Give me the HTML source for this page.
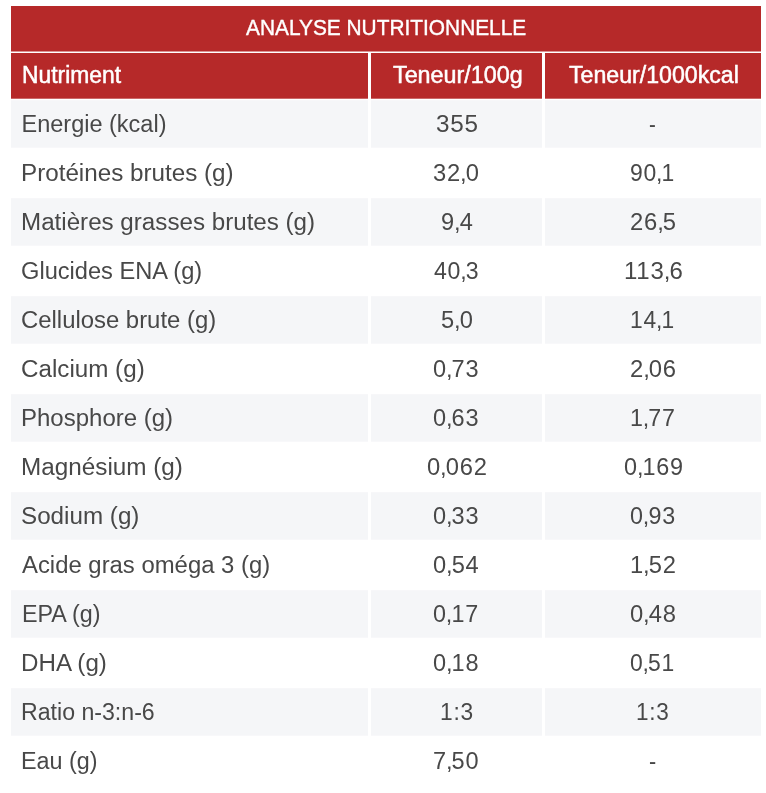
<!DOCTYPE html>
<html lang="fr"><head><meta charset="utf-8"><title>Analyse nutritionnelle</title>
<style>
html,body{margin:0;padding:0;background:#fff;}
body{width:766px;height:793px;position:relative;overflow:hidden;font-family:"Liberation Sans",Arial,sans-serif;}
svg.bg{position:absolute;left:0;top:0;}
.t{position:absolute;white-space:nowrap;font-size:23.5px;line-height:30px;height:30px;color:#484848;transform-origin:0 50%;}
.h{color:#fff;}
.hd{-webkit-text-stroke:0.5px #fff;font-size:23px;}
.ti{-webkit-text-stroke:0.4px #fff;font-size:22.5px;}
.n{letter-spacing:0.75px;}
.k{margin:0 -0.9px;letter-spacing:0;}
</style></head><body>

<svg class="bg" width="766" height="793" viewBox="0 0 766 793">
<rect x="11" y="6" width="750" height="45.5" fill="#b62929"/>
<rect x="11" y="53" width="357" height="45.7" fill="#b62929"/>
<rect x="371" y="53" width="171" height="45.7" fill="#b62929"/>
<rect x="545" y="53" width="216" height="45.7" fill="#b62929"/>
<rect x="11" y="100.2" width="357" height="47.5" fill="#f5f6f8"/>
<rect x="371" y="100.2" width="171" height="47.5" fill="#f5f6f8"/>
<rect x="545" y="100.2" width="216" height="47.5" fill="#f5f6f8"/>
<rect x="11" y="198.2" width="357" height="47.5" fill="#f5f6f8"/>
<rect x="371" y="198.2" width="171" height="47.5" fill="#f5f6f8"/>
<rect x="545" y="198.2" width="216" height="47.5" fill="#f5f6f8"/>
<rect x="11" y="296.2" width="357" height="47.5" fill="#f5f6f8"/>
<rect x="371" y="296.2" width="171" height="47.5" fill="#f5f6f8"/>
<rect x="545" y="296.2" width="216" height="47.5" fill="#f5f6f8"/>
<rect x="11" y="394.2" width="357" height="47.5" fill="#f5f6f8"/>
<rect x="371" y="394.2" width="171" height="47.5" fill="#f5f6f8"/>
<rect x="545" y="394.2" width="216" height="47.5" fill="#f5f6f8"/>
<rect x="11" y="492.2" width="357" height="47.5" fill="#f5f6f8"/>
<rect x="371" y="492.2" width="171" height="47.5" fill="#f5f6f8"/>
<rect x="545" y="492.2" width="216" height="47.5" fill="#f5f6f8"/>
<rect x="11" y="590.2" width="357" height="47.5" fill="#f5f6f8"/>
<rect x="371" y="590.2" width="171" height="47.5" fill="#f5f6f8"/>
<rect x="545" y="590.2" width="216" height="47.5" fill="#f5f6f8"/>
<rect x="11" y="688.2" width="357" height="47.5" fill="#f5f6f8"/>
<rect x="371" y="688.2" width="171" height="47.5" fill="#f5f6f8"/>
<rect x="545" y="688.2" width="216" height="47.5" fill="#f5f6f8"/>
</svg>
<div class="t h ti" style="left:246.26px;top:12.6px;transform:scaleX(0.9275)">ANALYSE NUTRITIONNELLE</div>
<div class="t h hd" style="left:21.56px;top:59.9px;transform:scaleX(0.9944)">Nutriment</div>
<div class="t h hd" style="left:392.51px;top:59.9px;transform:scaleX(1.0137)">Teneur/100g</div>
<div class="t h hd" style="left:568.91px;top:59.9px;transform:scaleX(1.0061)">Teneur/1000kcal</div>
<div class="t " style="left:21.50px;top:109.0px;transform:scaleX(1.0000)">Energie (kcal)</div>
<div class="t n" style="left:435.68px;top:109.0px;transform:scaleX(1.0330)">355</div>
<div class="t n" style="left:648.91px;top:109.0px;transform:scaleX(0.8678)">-</div>
<div class="t " style="left:20.84px;top:157.9px;transform:scaleX(1.0299)">Protéines brutes (g)</div>
<div class="t n" style="left:433.21px;top:157.9px;transform:scaleX(1.0105)">32<span class="k">,</span>0</div>
<div class="t n" style="left:629.96px;top:157.9px;transform:scaleX(0.9759)">90<span class="k">,</span>1</div>
<div class="t " style="left:20.84px;top:206.9px;transform:scaleX(1.0283)">Matières grasses brutes (g)</div>
<div class="t n" style="left:440.73px;top:206.9px;transform:scaleX(1.0042)">9<span class="k">,</span>4</div>
<div class="t n" style="left:629.90px;top:206.9px;transform:scaleX(1.0141)">26<span class="k">,</span>5</div>
<div class="t " style="left:21.49px;top:255.9px;transform:scaleX(1.0055)">Glucides ENA (g)</div>
<div class="t n" style="left:434.04px;top:255.9px;transform:scaleX(0.9828)">40<span class="k">,</span>3</div>
<div class="t n" style="left:623.56px;top:255.9px;transform:scaleX(1.0211)">113<span class="k">,</span>6</div>
<div class="t " style="left:21.48px;top:304.9px;transform:scaleX(1.0163)">Cellulose brute (g)</div>
<div class="t n" style="left:440.74px;top:304.9px;transform:scaleX(1.0079)">5<span class="k">,</span>0</div>
<div class="t n" style="left:630.26px;top:304.9px;transform:scaleX(0.9691)">14<span class="k">,</span>1</div>
<div class="t " style="left:21.46px;top:353.9px;transform:scaleX(1.0297)">Calcium (g)</div>
<div class="t n" style="left:433.30px;top:353.9px;transform:scaleX(1.0016)">0<span class="k">,</span>73</div>
<div class="t n" style="left:629.90px;top:353.9px;transform:scaleX(1.0147)">2<span class="k">,</span>06</div>
<div class="t " style="left:21.26px;top:402.9px;transform:scaleX(1.0214)">Phosphore (g)</div>
<div class="t n" style="left:433.30px;top:402.9px;transform:scaleX(1.0016)">0<span class="k">,</span>63</div>
<div class="t n" style="left:630.22px;top:402.9px;transform:scaleX(0.9882)">1<span class="k">,</span>77</div>
<div class="t " style="left:21.23px;top:451.9px;transform:scaleX(1.0333)">Magnésium (g)</div>
<div class="t n" style="left:426.99px;top:451.9px;transform:scaleX(1.0105)">0<span class="k">,</span>062</div>
<div class="t n" style="left:623.70px;top:451.9px;transform:scaleX(0.9965)">0<span class="k">,</span>169</div>
<div class="t " style="left:21.37px;top:501.0px;transform:scaleX(1.0303)">Sodium (g)</div>
<div class="t n" style="left:433.30px;top:501.0px;transform:scaleX(1.0016)">0<span class="k">,</span>33</div>
<div class="t n" style="left:630.01px;top:501.0px;transform:scaleX(0.9924)">0<span class="k">,</span>93</div>
<div class="t " style="left:21.98px;top:550.0px;transform:scaleX(1.0160)">Acide gras oméga 3 (g)</div>
<div class="t n" style="left:433.29px;top:550.0px;transform:scaleX(1.0059)">0<span class="k">,</span>54</div>
<div class="t n" style="left:630.18px;top:550.0px;transform:scaleX(1.0093)">1<span class="k">,</span>52</div>
<div class="t " style="left:21.52px;top:599.0px;transform:scaleX(0.9917)">EPA (g)</div>
<div class="t n" style="left:433.31px;top:599.0px;transform:scaleX(0.9931)">0<span class="k">,</span>17</div>
<div class="t n" style="left:629.99px;top:599.0px;transform:scaleX(1.0125)">0<span class="k">,</span>48</div>
<div class="t " style="left:21.25px;top:648.0px;transform:scaleX(1.0275)">DHA (g)</div>
<div class="t n" style="left:433.30px;top:648.0px;transform:scaleX(1.0012)">0<span class="k">,</span>18</div>
<div class="t n" style="left:630.03px;top:648.0px;transform:scaleX(0.9744)">0<span class="k">,</span>51</div>
<div class="t " style="left:21.33px;top:697.0px;transform:scaleX(0.9844)">Ratio n-3:n-6</div>
<div class="t n" style="left:439.86px;top:697.0px;transform:scaleX(0.9684)">1:3</div>
<div class="t n" style="left:636.18px;top:697.0px;transform:scaleX(0.9587)">1:3</div>
<div class="t " style="left:21.31px;top:746.0px;transform:scaleX(0.9931)">Eau (g)</div>
<div class="t n" style="left:433.20px;top:746.0px;transform:scaleX(1.0017)">7<span class="k">,</span>50</div>
<div class="t n" style="left:648.86px;top:746.0px;transform:scaleX(0.9188)">-</div>
</body></html>
